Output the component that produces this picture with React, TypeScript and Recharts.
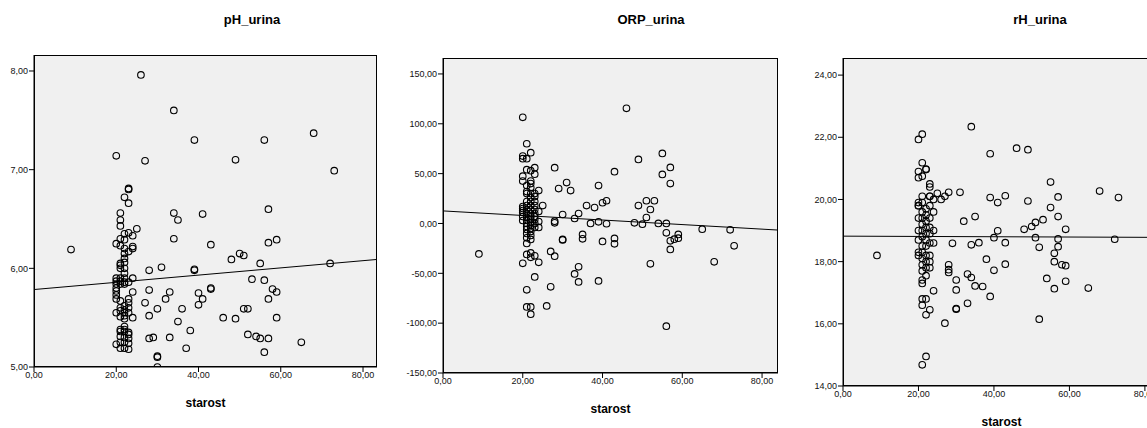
import React from "react";
import { Scatter, ScatterChart, XAxis, YAxis } from "recharts";

// [starost, value]
const PH_POINTS: [number, number][] = [
  [9, 6.19], [26, 7.96], [34, 7.6], [39, 7.3], [56, 7.3], [68, 7.37], [20, 7.14], [27, 7.09],
  [49, 7.1], [73, 6.99], [25, 6.4], [34, 6.56], [35, 6.49], [41, 6.55], [57, 6.6], [34, 6.3],
  [43, 6.24], [57, 6.26], [59, 6.29], [50, 6.15], [51, 6.13], [48, 6.09], [55, 6.05], [72, 6.05],
  [28, 5.98], [31, 6.01], [39, 5.98], [39, 5.99], [53, 5.89], [56, 5.88], [43, 5.79], [43, 5.8],
  [58, 5.79], [59, 5.76], [40, 5.75], [41, 5.69], [40, 5.63], [57, 5.69], [28, 5.78], [33, 5.76],
  [32, 5.69], [27, 5.65], [30, 5.59], [36, 5.59], [51, 5.59], [52, 5.59], [28, 5.52], [46, 5.5],
  [49, 5.49], [59, 5.5], [35, 5.46], [38, 5.37], [28, 5.29], [29, 5.3], [33, 5.3], [52, 5.33],
  [54, 5.31], [55, 5.29], [57, 5.29], [65, 5.25], [37, 5.19], [56, 5.15], [30, 5.1], [30, 5.11],
  [30, 5.0],
  [20, 6.25], [20, 5.9], [20, 5.87], [20, 5.84], [20, 5.8], [20, 5.77], [20, 5.73], [20, 5.69],
  [20, 5.55], [20, 5.23],
  [21, 6.56], [21, 6.49], [21, 6.43], [21, 6.3], [21, 6.23], [21, 6.05], [21, 6.03], [21, 6.0],
  [21, 5.9], [21, 5.87], [21, 5.84], [21, 5.67], [21, 5.6], [21, 5.57], [21, 5.51], [21, 5.38],
  [21, 5.36], [21, 5.31], [21, 5.25], [21, 5.19],
  [22, 6.72], [22, 6.35], [22, 6.29], [22, 6.2], [22, 6.15], [22, 6.1], [22, 6.06], [22, 6.0],
  [22, 5.95], [22, 5.9], [22, 5.86], [22, 5.84], [22, 5.62], [22, 5.58], [22, 5.55], [22, 5.52],
  [22, 5.49], [22, 5.41], [22, 5.38], [22, 5.36], [22, 5.3], [22, 5.25], [22, 5.19],
  [23, 6.8], [23, 6.81], [23, 6.66], [23, 6.36], [23, 6.17], [23, 5.86], [23, 5.69], [23, 5.65],
  [23, 5.6], [23, 5.55], [23, 5.35], [23, 5.33], [23, 5.29], [23, 5.24], [23, 5.18],
  [24, 6.33], [24, 6.22], [24, 6.2], [24, 5.9], [24, 5.76], [24, 5.5],
];

const ORP_POINTS: [number, number][] = [
  [9, -30.5], [20, 106.5], [21, 80], [20, 67.6], [20, 65], [21, 65], [22, 71], [20, 47.5],
  [20, 42.5], [21, 54], [22, 53], [23, 56], [23, 49.5], [22, 42.5], [22, 40], [21, 32], [24, 33],
  [23, 27], [25, 18], [20, 17], [20, 13], [21, -14.4], [21, -20], [22, -16], [24, -4], [21, -31],
  [22, -29.5], [22, -34], [23, -32.5], [24, -39], [20, -40], [23, -53.6], [21, -66.6], [21, -83.7],
  [22, -83.7], [22, -91], [26, -82.7], [27, -63.6], [28, -32.8], [27, -28], [28, 56], [29, 35],
  [31, 41], [32, 33], [30, 9], [28, 2.3], [28, 0.7], [30, -16], [30, -16.5], [33, 5], [34, 10],
  [35, -11], [35, -15.4], [33, -50.6], [34, -43.5], [34, -58.6], [36, 18], [37, 0], [38, 16],
  [39, 38], [39, 1.7], [39, -57.6], [40, 20.8], [41, 22.8], [40, -18], [41, -0.3], [43, 52],
  [43, -15], [43, -20.4], [46, 115.5], [48, 0.7], [49, 64.3], [49, 18], [50, -0.7], [51, 22.8],
  [51, 6], [52, 14], [52, -40.5], [53, 22.8], [54, 0], [55, 70.3], [55, 49.2], [56, 0], [56, -9.4],
  [56, -103], [57, 56.2], [57, 40], [57, -17.4], [57, -26], [58, -15.7], [59, -11], [59, -14.7],
  [65, -5.7], [68, -38.5], [72, -6.4], [73, -22.4],
  [20, 15], [20, 11], [20, 7], [20, 3],
  [21, 38], [21, 30], [21, 22], [21, 18], [21, 14], [21, 10], [21, 6], [21, 3], [21, 0], [21, -3],
  [21, -6], [21, -10],
  [22, 36], [22, 30], [22, 26], [22, 22], [22, 18], [22, 14], [22, 10], [22, 7], [22, 4], [22, 1],
  [22, -2], [22, -5], [22, -8], [22, -12],
  [23, 30], [23, 22], [23, 18], [23, 14], [23, 10], [23, 7], [23, 4], [23, 0], [23, -4],
  [24, 12], [24, 2],
];

const RH_POINTS: [number, number][] = [
  [9, 18.2], [20, 21.93], [21, 22.1], [34, 22.34], [39, 21.47], [46, 21.65], [49, 21.6],
  [21, 21.18], [20, 20.9], [20, 20.7], [21, 20.75], [22, 20.98], [22, 20.96], [23, 20.5],
  [23, 20.4], [20, 19.9], [20, 19.8], [21, 20.1], [23, 20.1], [24, 20.0], [25, 20.2], [26, 20.0],
  [27, 20.1], [28, 20.23], [31, 20.23], [32, 19.3], [35, 19.45], [39, 20.06], [41, 19.9],
  [43, 20.12], [49, 19.95], [55, 20.56], [55, 19.74], [57, 20.08], [57, 19.45], [68, 20.27],
  [73, 20.06], [72, 18.72], [59, 19.04], [53, 19.35], [51, 19.26], [50, 19.13], [48, 19.04],
  [41, 18.99], [40, 18.77], [43, 18.61], [36, 18.61], [34, 18.54], [29, 18.59], [51, 18.77],
  [52, 18.46], [57, 18.73], [57, 18.48], [56, 18.27], [56, 18.0], [58, 17.9], [59, 17.87],
  [38, 18.08], [40, 17.72], [43, 17.92], [28, 17.9], [28, 17.74], [28, 17.65], [33, 17.6],
  [34, 17.49], [30, 17.41], [30, 17.09], [35, 17.22], [37, 17.2], [39, 16.88], [54, 17.46],
  [56, 17.13], [59, 17.37], [65, 17.15], [30, 16.47], [30, 16.49], [33, 16.66], [27, 16.02],
  [52, 16.15], [24, 17.06], [21, 16.8], [22, 16.8], [21, 16.6], [23, 16.45], [22, 16.29],
  [21, 14.68], [22, 14.95], [21, 17.41], [21, 17.3], [22, 17.55],
  [20, 19.8], [20, 19.4], [20, 19.0], [20, 18.7], [20, 18.3], [20, 18.2],
  [21, 19.9], [21, 19.6], [21, 19.4], [21, 19.2], [21, 19.0], [21, 18.8], [21, 18.5], [21, 18.3],
  [21, 18.1], [21, 17.9], [21, 17.7],
  [22, 19.7], [22, 19.5], [22, 19.3], [22, 19.1], [22, 18.9], [22, 18.7], [22, 18.5], [22, 18.2],
  [22, 18.0], [22, 17.8],
  [23, 20.1], [23, 19.8], [23, 19.4], [23, 19.1], [23, 18.9], [23, 18.6], [23, 18.2], [23, 18.0],
  [23, 17.8],
  [24, 19.6], [24, 19.0], [24, 18.6],
];

// fit line end points
const PH_FIT: [number, number][] = [[0, 5.785], [83.4, 6.09]];
const ORP_FIT: [number, number][] = [[0, 12.6], [84, -6.6]];
const RH_FIT: [number, number][] = [[0, 18.82], [84, 18.78]];

const X_TICKS = [0, 20, 40, 60, 80];
const PH_TICKS = [5, 6, 7, 8];
const ORP_TICKS = [-150, -100, -50, 0, 50, 100, 150];
const RH_TICKS = [14, 16, 18, 20, 22, 24];

const FONT = "'Liberation Sans', Arial, sans-serif";
const Y_AXIS_W = 40;
const X_AXIS_H = 30;
const PAD = 5;

const toRows = (pts: [number, number][]) => pts.map(([x, y]) => ({ x, y }));
const fmt = (v: number) => v.toFixed(2).replace(".", ",");

const tick = { fontSize: 9, fill: "#111", fontFamily: FONT };

function Dot(props: any) {
  const { cx, cy } = props;
  if (cx == null || cy == null) return <g />;
  return <circle cx={cx} cy={cy} r={3.3} fill="none" stroke="#000" strokeWidth={1.1} />;
}

function Panel({
  points,
  fit,
  left,
  top,
  width,
  height,
  xMax,
  yDomain,
  yTicks,
  title,
  titleX,
}: {
  points: [number, number][];
  fit: [number, number][];
  left: number;
  top: number;
  width: number;
  height: number;
  xMax: number;
  yDomain: [number, number];
  yTicks: number[];
  title: string;
  titleX: number;
}) {
  return (
    <>
      <div
        style={{
          position: "absolute",
          left: titleX - 80,
          width: 160,
          top: 12,
          textAlign: "center",
          font: `bold 13px ${FONT}`,
          lineHeight: "16px",
          color: "#000",
        }}
      >
        {title}
      </div>
      <div
        style={{
          position: "absolute",
          left,
          top,
          width,
          height,
          background: "#f0f0f0",
          boxSizing: "border-box",
          border: "1px solid #000",
        }}
      />
      <div style={{ position: "absolute", left: left - Y_AXIS_W, top: top - PAD }}>
        <ScatterChart
          width={Y_AXIS_W + width + PAD}
          height={height + X_AXIS_H + PAD}
          margin={{ top: PAD, right: PAD, left: 0, bottom: 0 }}
        >
          <XAxis
            type="number"
            dataKey="x"
            domain={[0, xMax]}
            ticks={X_TICKS}
            tickFormatter={fmt}
            tick={tick}
            tickSize={5}
            tickMargin={0}
            height={X_AXIS_H}
            stroke="#000"
            allowDataOverflow
          />
          <YAxis
            type="number"
            dataKey="y"
            domain={yDomain}
            ticks={yTicks}
            tickFormatter={fmt}
            tick={tick}
            tickSize={5}
            tickMargin={1}
            width={Y_AXIS_W}
            stroke="#000"
            allowDataOverflow
          />
          <Scatter data={toRows(points)} shape={<Dot />} isAnimationActive={false} />
          <Scatter
            data={toRows(fit)}
            line={{ stroke: "#000", strokeWidth: 1 }}
            shape={() => <g />}
            isAnimationActive={false}
          />
        </ScatterChart>
      </div>
      <div
        style={{
          position: "absolute",
          left: left + width / 2 - 60,
          width: 120,
          top: top + height + 28,
          textAlign: "center",
          font: `bold 12px ${FONT}`,
          lineHeight: "16px",
          color: "#000",
        }}
      >
        starost
      </div>
    </>
  );
}

export default function App() {
  return (
    <div
      style={{
        position: "absolute",
        left: 0,
        top: 0,
        width: 1147,
        height: 428,
        overflow: "hidden",
        background: "#fff",
      }}
    >
      <Panel
        points={PH_POINTS}
        fit={PH_FIT}
        left={34}
        top={55}
        width={343}
        height={312}
        xMax={83.4}
        yDomain={[5, 8.162]}
        yTicks={PH_TICKS}
        title="pH_urina"
        titleX={252}
      />
      <Panel
        points={ORP_POINTS}
        fit={ORP_FIT}
        left={443}
        top={58}
        width={335}
        height={315}
        xMax={84}
        yDomain={[-150, 166]}
        yTicks={ORP_TICKS}
        title="ORP_urina"
        titleX={651}
      />
      <Panel
        points={RH_POINTS}
        fit={RH_FIT}
        left={843}
        top={58}
        width={317}
        height={328}
        xMax={84}
        yDomain={[14, 24.55]}
        yTicks={RH_TICKS}
        title="rH_urina"
        titleX={1040}
      />
    </div>
  );
}
